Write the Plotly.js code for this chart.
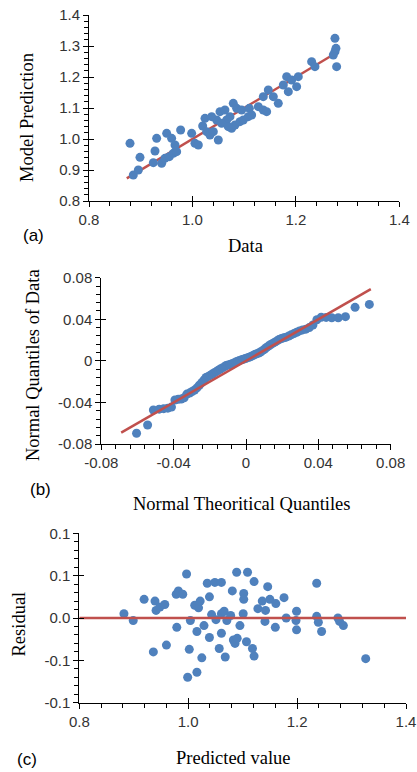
<!DOCTYPE html>
<html>
<head>
<meta charset="utf-8">
<script src="https://cdn.plot.ly/plotly-3.0.1.min.js"></script>
<style>html,body{margin:0;padding:0;background:#fff;}#chart{width:417px;height:772px;}</style>
</head>
<body>
<div id="chart"></div>
<script>
// ---- Panel (a): Data vs Model Prediction ----
const aData = [0.8793,0.8857,0.8954,0.8986,0.9308,0.9276,0.9244,0.9405,0.9469,0.9553,0.9630,0.9695,0.9502,0.9598,0.9663,0.9772,0.9985,1.0049,1.0114,1.0243,1.0198,1.0275,1.0339,1.0500,1.0404,1.0468,1.0533,1.0629,1.0662,1.0726,1.0790,1.0855,1.0758,1.0823,1.0565,1.0694,1.0919,1.0952,1.0984,1.1080,1.1100,1.1145,1.1274,1.1370,1.1435,1.1370,1.1467,1.1564,1.1660,1.1757,1.1822,1.1918,1.2015,1.2047,1.1854,1.2305,1.2369,1.2756,1.2756,1.2724,1.2775,1.2788,1.0372];
const aPred = [0.9860,0.8839,0.9000,0.9409,1.0022,0.9613,0.9237,0.9215,0.9376,0.9430,0.9538,0.9591,1.0183,1.0022,0.9806,1.0290,1.0183,0.9860,0.9806,1.0667,1.0419,1.0237,1.0129,0.9968,1.0237,1.0613,1.0882,1.0935,1.0613,1.0720,1.1151,1.0989,1.0344,1.0452,1.0505,1.0398,1.0559,1.0935,1.0613,1.0720,1.0989,1.0774,1.1043,1.0935,1.0882,1.1366,1.1581,1.1366,1.1151,1.1742,1.2011,1.1903,1.1688,1.2011,1.1527,1.2495,1.2333,1.3247,1.2817,1.2710,1.2925,1.2333,1.0720];
const aLineX = [0.873, 1.28];
const aLineY = [0.873, 1.28];
const aTickVals = [0.8,0.9,1.0,1.1,1.2,1.3,1.4];
const aTickText = ["0.8","0.9","1.0","1.1","1.2","1.3","1.4"];
const aXTickVals = [0.8,1.0,1.2,1.4];
const aXTickText = ["0.8","1.0","1.2","1.4"];

// ---- Panel (b): Normal Q-Q ----
const qqTheo = [-0.0605,-0.0544,-0.0512,-0.0480,-0.0455,-0.0432,-0.0412,-0.0393,-0.0375,-0.0358,-0.0342,-0.0327,-0.0312,-0.0298,-0.0284,-0.0271,-0.0258,-0.0245,-0.0233,-0.0221,-0.0209,-0.0197,-0.0186,-0.0175,-0.0164,-0.0153,-0.0142,-0.0131,-0.0120,-0.0110,-0.0099,-0.0088,-0.0078,-0.0067,-0.0057,-0.0046,-0.0036,-0.0025,-0.0015,-0.0004,0.0006,0.0017,0.0027,0.0038,0.0048,0.0059,0.0070,0.0080,0.0091,0.0102,0.0113,0.0124,0.0135,0.0147,0.0159,0.0171,0.0183,0.0196,0.0209,0.0222,0.0236,0.0250,0.0265,0.0280,0.0296,0.0313,0.0331,0.0350,0.0370,0.0392,0.0416,0.0443,0.0474,0.0510,0.0550,0.0603,0.0682];
const qqData = [-0.0697,-0.0617,-0.0473,-0.0465,-0.0460,-0.0455,-0.0445,-0.0377,-0.0370,-0.0368,-0.0355,-0.0320,-0.0310,-0.0295,-0.0280,-0.0260,-0.0235,-0.0210,-0.0185,-0.0160,-0.0150,-0.0138,-0.0126,-0.0115,-0.0103,-0.0090,-0.0078,-0.0068,-0.0058,-0.0045,-0.0040,-0.0035,-0.0028,-0.0020,-0.0012,-0.0004,0.0004,0.0010,0.0015,0.0022,0.0028,0.0035,0.0042,0.0052,0.0060,0.0068,0.0076,0.0085,0.0098,0.0112,0.0128,0.0142,0.0155,0.0168,0.0180,0.0192,0.0205,0.0215,0.0222,0.0228,0.0238,0.0250,0.0262,0.0275,0.0288,0.0298,0.0305,0.0320,0.0345,0.0395,0.0420,0.0418,0.0415,0.0415,0.0425,0.0515,0.0543];
const bLineX = [-0.069, 0.069];
const bLineY = [-0.069, 0.069];
const bTickVals = [-0.08,-0.04,0,0.04,0.08];
const bTickText = ["-0.08","-0.04","0","0.04","0.08"];

// ---- Panel (c): Residuals ----
const cPred = [0.882,0.899,0.919,0.939,0.941,0.948,0.957,0.936,0.960,0.978,0.982,0.990,0.979,0.997,1.004,1.002,0.999,1.016,1.016,1.012,1.019,1.022,1.025,1.029,1.035,1.039,1.039,1.043,1.049,1.051,1.057,1.061,1.061,1.061,1.068,1.071,1.078,1.081,1.083,1.086,1.090,1.089,1.095,1.101,1.102,1.102,1.107,1.109,1.118,1.121,1.121,1.128,1.136,1.141,1.142,1.146,1.150,1.161,1.160,1.176,1.180,1.198,1.199,1.199,1.236,1.236,1.239,1.245,1.275,1.278,1.285,1.326,1.066];
const cResid = [0.005,-0.003,0.022,0.020,0.009,0.013,0.016,-0.040,-0.032,0.028,0.032,0.028,-0.011,0.052,-0.003,-0.037,-0.070,-0.064,-0.016,0.015,0.012,0.020,-0.047,-0.009,0.041,0.025,-0.023,0.004,0.042,-0.002,-0.036,0.042,-0.018,0.005,-0.046,-0.003,0.003,0.032,-0.026,-0.030,-0.024,0.054,-0.009,0.005,0.029,0.022,-0.028,0.054,-0.036,-0.045,0.043,0.011,0.020,-0.004,0.009,0.037,0.022,0.017,-0.011,0.024,0.000,-0.003,0.008,-0.014,0.041,0.002,-0.005,-0.016,0.000,-0.004,-0.009,-0.048,0.008];
const cLineX = [0.8, 1.4];
const cLineY = [0, 0];
const cYTickVals = [-0.1,-0.05,0,0.05,0.1];
const cYTickText = ["-0.1","-0.1","0.0","0.1","0.1"];
const cXTickVals = [0.8,1.0,1.2,1.4];
const cXTickText = ["0.8","1.0","1.2","1.4"];

// ---- styling ----
const W = 417, H = 772;
const BLUE = '#4F81BD', RED = '#C0504D';
const tickFont = {family:'Liberation Sans, Arial, sans-serif', size:15, color:'#333'};
const titleFont = {family:'Liberation Serif, Times New Roman, serif', size:18.5, color:'#000'};
const px = v => v / W;
const py = v => 1 - v / H;

function mainAxis(domain, range, tv, tt, minorDtick, anchor) {
  return {domain, range, anchor, tickmode:'array', tickvals:tv, ticktext:tt,
    ticks:'outside', ticklen:5, tickwidth:1, tickcolor:'#000',
    showline:true, linecolor:'#000', linewidth:1, showgrid:false, zeroline:false,
    tickfont:tickFont, fixedrange:true,
    minor:{ticks:'outside', ticklen:4, tickwidth:1, tickcolor:'#000', tick0:range[0], dtick:minorDtick, showgrid:false}};
}
function overAxis(range, tv, over, anchor, side) {
  return {range, overlaying:over, anchor, side, tickmode:'array', tickvals:tv,
    ticks:'inside', ticklen:5, tickwidth:1, tickcolor:'#000',
    showticklabels:false, showline:false, showgrid:false, zeroline:false, fixedrange:true};
}

const aXD = [px(89), px(399.3)], aYD = [py(201), py(15)];
const bXD = [px(101.3), px(390.7)], bYD = [py(444), py(277.7)];
const cXD = [px(79.3), px(406)], cYD = [py(702.7), py(533.3)];

const mk = {color:BLUE, size:9, line:{width:0}};
const ln = {color:RED, width:2.5};

const traces = [
  {x:aLineX, y:aLineY, mode:'lines', line:ln, xaxis:'x', yaxis:'y', hoverinfo:'skip'},
  {x:aData, y:aPred, mode:'markers', marker:mk, xaxis:'x4', yaxis:'y4'},
  {x:qqTheo, y:qqData, mode:'markers', marker:mk, xaxis:'x2', yaxis:'y2'},
  {x:bLineX, y:bLineY, mode:'lines', line:ln, xaxis:'x5', yaxis:'y5', hoverinfo:'skip'},
  {x:cPred, y:cResid, mode:'markers', marker:mk, xaxis:'x3', yaxis:'y3'},
  {x:cLineX, y:cLineY, mode:'lines', line:ln, xaxis:'x6', yaxis:'y6', hoverinfo:'skip'}
];

function ann(text, x, y, font, angle) {
  return {text, x:px(x), y:py(y), xref:'paper', yref:'paper', xanchor:'center', yanchor:'middle',
    showarrow:false, font, textangle:angle||0};
}
const labFont = {family:'Liberation Sans, Arial, sans-serif', size:17, color:'#000'};

const layout = {
  width:W, height:H, margin:{l:0,r:0,t:0,b:0}, showlegend:false,
  paper_bgcolor:'#fff', plot_bgcolor:'rgba(0,0,0,0)',
  xaxis: mainAxis(aXD, [0.8,1.4], aXTickVals, aXTickText, 0.04, 'y'),
  yaxis: mainAxis(aYD, [0.8,1.4], aTickVals, aTickText, 0.02, 'x'),
  xaxis2: mainAxis(bXD, [-0.08,0.08], bTickVals, bTickText, 0.008, 'y2'),
  yaxis2: mainAxis(bYD, [-0.08,0.08], bTickVals, bTickText, 0.008, 'x2'),
  xaxis3: mainAxis(cXD, [0.8,1.4], cXTickVals, cXTickText, 0.04, 'y3'),
  yaxis3: mainAxis(cYD, [-0.1,0.1], cYTickVals, cYTickText, 0.01, 'x3'),
  xaxis4: overAxis([0.8,1.4], aXTickVals, 'x', 'y', 'bottom'),
  yaxis4: overAxis([0.8,1.4], aTickVals, 'y', 'x', 'left'),
  xaxis5: overAxis([-0.08,0.08], bTickVals, 'x2', 'y2', 'bottom'),
  yaxis5: overAxis([-0.08,0.08], bTickVals, 'y2', 'x2', 'left'),
  xaxis6: overAxis([0.8,1.4], cXTickVals, 'x3', 'y3', 'bottom'),
  yaxis6: overAxis([-0.1,0.1], cYTickVals, 'y3', 'x3', 'left'),
  annotations: [
    ann('Model Prediction', 27.5, 117.5, titleFont, -90),
    ann('Data', 245, 246, titleFont),
    ann('(a)', 33, 236, labFont),
    ann('Normal Quantiles of Data', 32.5, 365.5, titleFont, -90),
    ann('Normal Theoritical Quantiles', 241.7, 503.5, titleFont),
    ann('(b)', 40, 489, labFont),
    ann('Residual', 18.5, 624, titleFont, -90),
    ann('Predicted value', 233.5, 758, titleFont),
    ann('(c)', 27, 759, labFont)
  ]
};

Plotly.newPlot('chart', traces, layout, {staticPlot:true, displayModeBar:false});
</script>
</body>
</html>
